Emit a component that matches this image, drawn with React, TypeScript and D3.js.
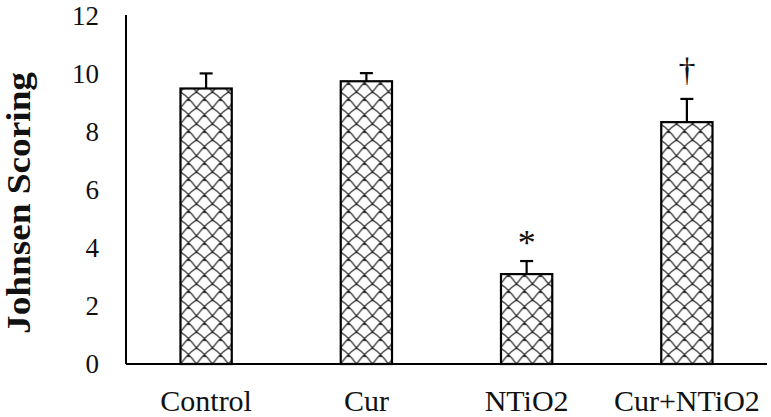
import React from 'react';
import * as d3 from 'd3';

const groups = ['Control', 'Cur', 'NTiO2', 'Cur+NTiO2'];
const means = [9.5, 9.75, 3.1, 8.34];
const errors = [0.52, 0.28, 0.45, 0.8];
const marks = ['', '', '*', '†'];
const yTicks = [0, 2, 4, 6, 8, 10, 12];

const W = 771, H = 417;
const margin = { top: 16, right: 4, bottom: 53, left: 126 };

const App = () => {
    const x = d3.scaleBand()
        .domain(groups)
        .range([margin.left, W - margin.right])
        .paddingInner(0.68)
        .paddingOuter(0.34);
    const y = d3.scaleLinear()
        .domain([0, 12])
        .range([H - margin.bottom, margin.top]);

    const font = '"Liberation Serif", "Times New Roman", serif';
    const y0 = y(0);

    return (
        <svg width={W} height={H} style={{ position: 'absolute', left: 0, top: 0, background: '#fff' }}>
            <defs>
                <pattern id="lattice" width="16" height="16" patternUnits="userSpaceOnUse"
                    x={x('Control')} y={y0}>
                    <path d="M0,0 Q8,5 16,16 M16,0 Q8,5 0,16" fill="none" stroke="#2a2a2a" strokeWidth="1.25" />
                    <circle cx="8" cy="8" r="1.2" fill="#222" />
                    <circle cx="0" cy="0" r="1.2" fill="#222" />
                    <circle cx="16" cy="0" r="1.2" fill="#222" />
                    <circle cx="0" cy="16" r="1.2" fill="#222" />
                    <circle cx="16" cy="16" r="1.2" fill="#222" />
                </pattern>
            </defs>

            {/* y axis */}
            <line x1={margin.left} x2={margin.left} y1={y(12) - 1} y2={y0} stroke="#000" strokeWidth={2} />
            {yTicks.map(t => (
                <text key={t} x={margin.left - 27} y={y(t)} dy="0.34em" textAnchor="end"
                    fontFamily={font} fontSize={27} fill="#111">{t}</text>
            ))}
            <text transform={`translate(30,203) rotate(-90)`} textAnchor="middle"
                fontFamily={font} fontSize={33} fontWeight="bold" fill="#111"
                textLength={262} lengthAdjust="spacingAndGlyphs">Johnsen Scoring</text>

            {/* bars */}
            {groups.map((g, i) => {
                const bx = x(g)!;
                const cx = bx + x.bandwidth() / 2;
                const top = y(means[i]);
                const eTop = y(means[i] + errors[i]);
                return (
                    <g key={g}>
                        <rect x={bx} y={top} width={x.bandwidth()} height={y0 - top}
                            fill="url(#lattice)" stroke="#000" strokeWidth={2.2} />
                        <line x1={cx} x2={cx} y1={top} y2={eTop} stroke="#000" strokeWidth={2.2} />
                        <line x1={cx - 6.5} x2={cx + 6.5} y1={eTop} y2={eTop} stroke="#000" strokeWidth={2.2} />
                        {marks[i] && (
                            <text x={cx} y={marks[i] === '*' ? eTop - 6 : eTop - 18} textAnchor="middle"
                                fontFamily={font} fontSize={marks[i] === '*' ? 36 : 34} fill="#111">{marks[i]}</text>
                        )}
                        <text x={cx} y={411} textAnchor="middle" fontFamily={font} fontSize={30} fill="#111">{g}</text>
                    </g>
                );
            })}

            {/* x axis */}
            <line x1={margin.left} x2={W - margin.right} y1={y0} y2={y0} stroke="#000" strokeWidth={2} />
        </svg>
    );
};

export default App;
